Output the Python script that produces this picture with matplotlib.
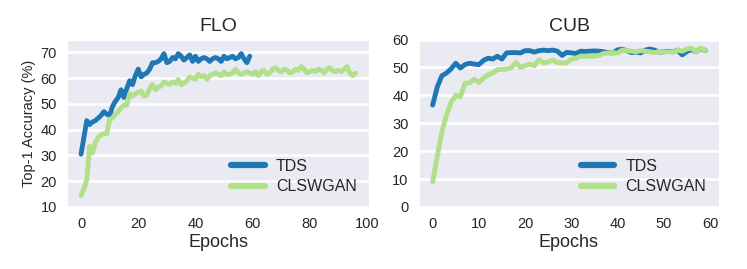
import matplotlib
matplotlib.use("Agg")
import matplotlib.pyplot as plt
import seaborn as sns
import numpy as np

sns.set_style("darkgrid")
plt.rcParams['font.family'] = ['Liberation Sans', 'DejaVu Sans']

titles = ["FLO", "CUB"]
series_names = ["TDS", "CLSWGAN"]
colors = ["#1f78b4", "#b2df8a"]

flo_tds = [30.5, 37, 43.5, 42, 43, 43.5, 44.5, 45.5, 47, 46, 45.5, 49, 51, 52.5, 55.5, 52.5,
           56, 59, 57.5, 61, 63.5, 60.5, 61.5, 62, 63.5, 66, 66, 66.5, 67.5, 69.5, 66, 66.5,
           68, 67.5, 69.5, 68.5, 67, 68, 69, 66.5, 68.5, 66.5, 67.5, 68, 67.5, 66.5, 67.5, 68,
           67.5, 66.5, 68.5, 67.5, 68, 68.5, 67.5, 68, 69.5, 67.5, 66, 68.5]
flo_clswgan = [14.5, 17, 20.5, 33.5, 31, 35, 37, 38, 38.5, 38.5, 44, 44.5, 46, 47, 48.5, 49.5,
               49.5, 54, 53, 54, 54.5, 55, 53, 53.5, 56, 57.5, 55.5, 56.5, 57, 58.5, 58, 57.5,
               58.5, 58, 59.5, 57.5, 58, 59, 60.5, 60, 59.5, 61.5, 60.5, 61, 59.5, 61, 61.5, 62,
               61.5, 61, 62.5, 61.5, 61.5, 62, 63.5, 62, 61.5, 62, 62.5, 62, 61.5, 62.5, 61, 62.5,
               63, 61.5, 62, 63.5, 64, 63, 62.5, 63.5, 63, 62, 62.5, 63.5, 63, 64.5, 63.5, 62,
               62.5, 63, 62.5, 63.5, 63, 62, 63.5, 64, 63, 62.5, 63, 62.5, 63.5, 64.5, 62, 61, 62]
cub_tds = [36.5, 43, 47, 48, 49.5, 51.5, 49.8, 51, 51.5, 51.2, 51, 52.5, 53.3, 53, 54, 53,
           55.2, 55.3, 55.3, 55.2, 56, 56, 55.5, 56, 56.2, 56, 56.2, 55.8, 54.3, 55.4, 55.2, 55,
           55.8, 55.7, 55.8, 55.9, 55.8, 55.6, 55.3, 55.2, 56.3, 56.5, 56, 55.3, 55.5, 55.2,
           56.2, 56.6, 56.2, 55.5, 55.6, 55.8, 55.6, 56.2, 54.5, 55.7, 56.4, 55.6, 56.8, 56]
cub_clswgan = [9, 18, 27, 33, 37.5, 40, 39.5, 44.3, 44.5, 45.8, 44.6, 46.2, 47.3, 48, 49.2,
               49.3, 49.4, 49.8, 51.8, 50, 50.6, 51.2, 50.6, 52.8, 51.6, 52, 52.6, 51.8, 51.6,
               51.7, 53, 53.3, 54, 54, 54.1, 54, 54.3, 55, 55.2, 55.3, 55.1, 56.2, 56, 55.8, 55.6,
               56, 55.8, 55.6, 55.3, 55.7, 55.5, 55.6, 55.5, 56.2, 55.8, 56.6, 56.9, 55.6, 57, 56]

data = [(flo_tds, flo_clswgan), (cub_tds, cub_clswgan)]
ylims = [(10, 75), (0, 60)]
yticks = [[10, 20, 30, 40, 50, 60, 70], [0, 10, 20, 30, 40, 50, 60]]
xticks = [[0, 20, 40, 60, 80, 100], [0, 10, 20, 30, 40, 50, 60]]

fig = plt.figure(figsize=(7.47, 2.69), dpi=100)
W, H = 747, 269
boxes = [(67.3, 369.3), (419, 719)]
top, bottom = 39.5, 207
axes = []
for (l, r) in boxes:
    axes.append(fig.add_axes([l / W, 1 - bottom / H, (r - l) / W, (bottom - top) / H]))

for i, ax in enumerate(axes):
    for s, name, c in zip(data[i], series_names, colors):
        ax.plot(np.arange(len(s)), s, color=c, lw=3.5, label=name)
    ax.set_title(titles[i], fontsize=14, color="#262626", pad=6)
    ax.set_xlabel("Epochs", fontsize=13, color="#262626", labelpad=2)
    ax.set_ylim(*ylims[i])
    ax.set_yticks(yticks[i])
    ax.set_xticks(xticks[i])
    ax.grid(axis="x", visible=False)
    ax.grid(axis="y", color="white", lw=1.8)
    ax.tick_params(labelsize=10.5, colors="#262626", pad=4)
    ax.margins(x=0.05)
    leg = ax.legend(loc="lower right", frameon=False, fontsize=11.5, handlelength=2.1,
                    handletextpad=0.7, labelspacing=0.35, borderaxespad=0.4)
    for line in leg.get_lines():
        line.set_linewidth(4.5)
axes[0].set_ylabel("Top-1 Accuracy (%)", fontsize=10.5, color="#262626", labelpad=3)

fig.savefig("out.png", dpi=100)
